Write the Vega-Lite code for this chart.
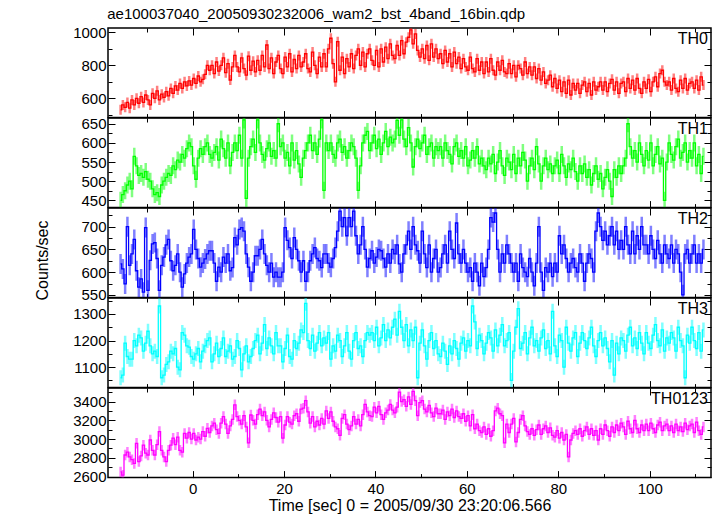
{
"$schema": "https://vega.github.io/schema/vega-lite/v6.json",
"background": "white",
"padding": {"left": 33, "top": 6, "right": 7, "bottom": 2},
"title": {"text": "ae100037040_20050930232006_wam2_bst_4band_16bin.qdp", "anchor": "start", "dx": 74, "offset": 3, "fontSize": 15, "fontWeight": "normal", "font": "Liberation Sans", "color": "#000"},
"bounds": "flush",
"spacing": 0,
"config": {
  "font": "Liberation Sans",
  "numberFormat": "d",
  "view": {"stroke": "#000", "strokeWidth": 1.5},
  "axis": {"domain": false, "grid": false, "ticks": true, "tickColor": "#000", "tickWidth": 1, "labelColor": "#000", "labelFontSize": 15, "labelFont": "Liberation Sans", "titleFont": "Liberation Sans", "titleFontSize": 16, "titleFontWeight": "normal", "titleColor": "#000", "minExtent": 0, "labelFlush": false}
},
"datasets": {"lc": [
{"t":-15.75,"a":530,"b":450,"c":618,"d":1060,"s":2650},
{"t":-15.25,"a":560,"b":465,"c":607,"d":1070,"s":2615},
{"t":-14.75,"a":545,"b":475,"c":574,"d":1190,"s":2830},
{"t":-14.25,"a":575,"b":490,"c":700,"d":1140,"s":2860},
{"t":-13.75,"a":540,"b":500,"c":615,"d":1130,"s":2810},
{"t":-13.25,"a":590,"b":480,"c":640,"d":1130,"s":2780},
{"t":-12.75,"a":560,"b":565,"c":672,"d":1200,"s":2740},
{"t":-12.25,"a":600,"b":540,"c":603,"d":1180,"s":2955},
{"t":-11.75,"a":570,"b":515,"c":567,"d":1220,"s":2760},
{"t":-11.25,"a":610,"b":520,"c":585,"d":1210,"s":2820},
{"t":-10.75,"a":575,"b":510,"c":556,"d":1160,"s":2935},
{"t":-10.25,"a":620,"b":525,"c":698,"d":1190,"s":2850},
{"t":-9.75,"a":590,"b":505,"c":560,"d":1235,"s":2830},
{"t":-9.25,"a":560,"b":500,"c":626,"d":1180,"s":2990},
{"t":-8.75,"a":630,"b":480,"c":662,"d":1150,"s":2880},
{"t":-8.25,"a":600,"b":465,"c":665,"d":1160,"s":2830},
{"t":-7.75,"a":645,"b":470,"c":630,"d":1140,"s":2940},
{"t":-7.25,"a":590,"b":460,"c":560,"d":1330,"s":3080},
{"t":-6.75,"a":625,"b":490,"c":615,"d":1060,"s":2880},
{"t":-6.25,"a":605,"b":500,"c":633,"d":1070,"s":2810},
{"t":-5.75,"a":640,"b":510,"c":660,"d":1110,"s":2760},
{"t":-5.25,"a":615,"b":520,"c":672,"d":1120,"s":2880},
{"t":-4.75,"a":660,"b":515,"c":625,"d":1160,"s":2935},
{"t":-4.25,"a":630,"b":540,"c":603,"d":1150,"s":3010},
{"t":-3.75,"a":675,"b":530,"c":615,"d":1170,"s":2940},
{"t":-3.25,"a":650,"b":555,"c":640,"d":1100,"s":3020},
{"t":-2.75,"a":690,"b":550,"c":600,"d":1090,"s":2880},
{"t":-2.25,"a":660,"b":570,"c":567,"d":1230,"s":2860},
{"t":-1.75,"a":700,"b":560,"c":596,"d":1220,"s":3060},
{"t":-1.25,"a":675,"b":585,"c":620,"d":1180,"s":3010},
{"t":-0.75,"a":705,"b":600,"c":633,"d":1175,"s":3070},
{"t":-0.25,"a":680,"b":590,"c":640,"d":1140,"s":3000},
{"t":0.25,"a":720,"b":540,"c":694,"d":1130,"s":3060},
{"t":0.75,"a":690,"b":505,"c":650,"d":1150,"s":2990},
{"t":1.25,"a":735,"b":560,"c":630,"d":1170,"s":3020},
{"t":1.75,"a":700,"b":585,"c":611,"d":1120,"s":3000},
{"t":2.25,"a":715,"b":570,"c":620,"d":1160,"s":3080},
{"t":2.75,"a":745,"b":590,"c":629,"d":1180,"s":3030},
{"t":3.25,"a":800,"b":600,"c":640,"d":1200,"s":3115},
{"t":3.75,"a":770,"b":570,"c":647,"d":1210,"s":3070},
{"t":4.25,"a":800,"b":560,"c":647,"d":1120,"s":3140},
{"t":4.75,"a":750,"b":575,"c":620,"d":1150,"s":3170},
{"t":5.25,"a":820,"b":590,"c":580,"d":1190,"s":3100},
{"t":5.75,"a":765,"b":555,"c":611,"d":1140,"s":3060},
{"t":6.25,"a":800,"b":610,"c":600,"d":1170,"s":3170},
{"t":6.75,"a":845,"b":585,"c":633,"d":1210,"s":3240},
{"t":7.25,"a":755,"b":560,"c":620,"d":1140,"s":3160},
{"t":7.75,"a":810,"b":600,"c":640,"d":1160,"s":3060},
{"t":8.25,"a":711,"b":540,"c":603,"d":1180,"s":3140},
{"t":8.75,"a":790,"b":575,"c":610,"d":1130,"s":3210},
{"t":9.25,"a":860,"b":600,"c":676,"d":1140,"s":3365},
{"t":9.75,"a":790,"b":580,"c":660,"d":1200,"s":3240},
{"t":10.25,"a":760,"b":620,"c":694,"d":1170,"s":3200},
{"t":10.75,"a":845,"b":560,"c":698,"d":1090,"s":3160},
{"t":11.25,"a":780,"b":660,"c":690,"d":1150,"s":3250},
{"t":11.75,"a":740,"b":455,"c":640,"d":1180,"s":3130},
{"t":12.25,"a":855,"b":560,"c":611,"d":1120,"s":2960},
{"t":12.75,"a":770,"b":590,"c":580,"d":1140,"s":3257},
{"t":13.25,"a":825,"b":610,"c":600,"d":1170,"s":3200},
{"t":13.75,"a":760,"b":575,"c":636,"d":1200,"s":3160},
{"t":14.25,"a":830,"b":660,"c":636,"d":1220,"s":3260},
{"t":14.75,"a":770,"b":600,"c":650,"d":1150,"s":3320},
{"t":15.25,"a":860,"b":570,"c":672,"d":1190,"s":3250},
{"t":15.75,"a":790,"b":555,"c":640,"d":1260,"s":3290},
{"t":16.25,"a":923,"b":585,"c":615,"d":1170,"s":3200},
{"t":16.75,"a":780,"b":600,"c":600,"d":1210,"s":3130},
{"t":17.25,"a":845,"b":565,"c":620,"d":1180,"s":3210},
{"t":17.75,"a":750,"b":580,"c":589,"d":1150,"s":3280},
{"t":18.25,"a":820,"b":560,"c":600,"d":1230,"s":3230},
{"t":18.75,"a":860,"b":650,"c":589,"d":1180,"s":3180},
{"t":19.25,"a":780,"b":590,"c":589,"d":1180,"s":3240},
{"t":19.75,"a":750,"b":600,"c":600,"d":1120,"s":3010},
{"t":20.25,"a":850,"b":560,"c":698,"d":1170,"s":3150},
{"t":20.75,"a":790,"b":575,"c":670,"d":1220,"s":3240},
{"t":21.25,"a":870,"b":540,"c":654,"d":1140,"s":3180},
{"t":21.75,"a":760,"b":600,"c":630,"d":1130,"s":3160},
{"t":22.25,"a":835,"b":555,"c":676,"d":1200,"s":3250},
{"t":22.75,"a":780,"b":580,"c":650,"d":1170,"s":3270},
{"t":23.25,"a":860,"b":545,"c":625,"d":1190,"s":3190},
{"t":23.75,"a":790,"b":510,"c":600,"d":1240,"s":3320},
{"t":24.25,"a":820,"b":560,"c":625,"d":1230,"s":3330},
{"t":24.75,"a":870,"b":580,"c":580,"d":1340,"s":3410},
{"t":25.25,"a":780,"b":600,"c":600,"d":1200,"s":3290},
{"t":25.75,"a":760,"b":620,"c":625,"d":1170,"s":3170},
{"t":26.25,"a":880,"b":580,"c":640,"d":1220,"s":3240},
{"t":26.75,"a":800,"b":600,"c":654,"d":1160,"s":3130},
{"t":27.25,"a":750,"b":570,"c":630,"d":1190,"s":3190},
{"t":27.75,"a":850,"b":610,"c":625,"d":1230,"s":3150},
{"t":28.25,"a":790,"b":660,"c":610,"d":1180,"s":3220},
{"t":28.75,"a":870,"b":476,"c":640,"d":1210,"s":3160},
{"t":29.25,"a":790,"b":600,"c":640,"d":1190,"s":3300},
{"t":29.75,"a":900,"b":580,"c":620,"d":1230,"s":3220},
{"t":30.25,"a":964,"b":600,"c":611,"d":1130,"s":3290},
{"t":30.75,"a":810,"b":570,"c":630,"d":1180,"s":3190},
{"t":31.25,"a":700,"b":560,"c":654,"d":1160,"s":3130},
{"t":31.75,"a":943,"b":600,"c":690,"d":1220,"s":3110},
{"t":32.25,"a":770,"b":610,"c":734,"d":1200,"s":3040},
{"t":32.75,"a":850,"b":575,"c":700,"d":1140,"s":3220},
{"t":33.25,"a":750,"b":590,"c":720,"d":1180,"s":3260},
{"t":33.75,"a":840,"b":560,"c":680,"d":1230,"s":3160},
{"t":34.25,"a":790,"b":580,"c":720,"d":1160,"s":3100},
{"t":34.75,"a":870,"b":600,"c":700,"d":1130,"s":3140},
{"t":35.25,"a":780,"b":590,"c":734,"d":1200,"s":3240},
{"t":35.75,"a":860,"b":560,"c":680,"d":1230,"s":3160},
{"t":36.25,"a":900,"b":476,"c":640,"d":1170,"s":3210},
{"t":36.75,"a":800,"b":540,"c":660,"d":1180,"s":3140},
{"t":37.25,"a":880,"b":600,"c":700,"d":1140,"s":3260},
{"t":37.75,"a":790,"b":620,"c":650,"d":1200,"s":3370},
{"t":38.25,"a":870,"b":630,"c":611,"d":1230,"s":3290},
{"t":38.75,"a":900,"b":580,"c":630,"d":1220,"s":3250},
{"t":39.25,"a":830,"b":600,"c":647,"d":1230,"s":3240},
{"t":39.75,"a":800,"b":620,"c":620,"d":1200,"s":3340},
{"t":40.25,"a":890,"b":585,"c":633,"d":1250,"s":3280},
{"t":40.75,"a":790,"b":610,"c":650,"d":1180,"s":3350},
{"t":41.25,"a":900,"b":570,"c":647,"d":1210,"s":3260},
{"t":41.75,"a":820,"b":600,"c":630,"d":1260,"s":3210},
{"t":42.25,"a":910,"b":630,"c":611,"d":1200,"s":3280},
{"t":42.75,"a":840,"b":590,"c":640,"d":1240,"s":3310},
{"t":43.25,"a":930,"b":615,"c":620,"d":1210,"s":3370},
{"t":43.75,"a":860,"b":600,"c":650,"d":1250,"s":3310},
{"t":44.25,"a":840,"b":610,"c":640,"d":1280,"s":3280},
{"t":44.75,"a":920,"b":659,"c":660,"d":1220,"s":3340},
{"t":45.25,"a":860,"b":620,"c":618,"d":1310,"s":3500},
{"t":45.75,"a":950,"b":660,"c":600,"d":1250,"s":3400},
{"t":46.25,"a":870,"b":610,"c":640,"d":1200,"s":3420},
{"t":46.75,"a":940,"b":590,"c":660,"d":1260,"s":3350},
{"t":47.25,"a":970,"b":640,"c":690,"d":1180,"s":3450},
{"t":47.75,"a":1015,"b":600,"c":650,"d":1240,"s":3370},
{"t":48.25,"a":930,"b":537,"c":700,"d":1200,"s":3510},
{"t":48.75,"a":990,"b":590,"c":660,"d":1250,"s":3410},
{"t":49.25,"a":890,"b":610,"c":647,"d":1060,"s":3250},
{"t":49.75,"a":850,"b":585,"c":620,"d":1190,"s":3390},
{"t":50.25,"a":900,"b":600,"c":690,"d":1240,"s":3410},
{"t":50.75,"a":840,"b":620,"c":640,"d":1180,"s":3320},
{"t":51.25,"a":920,"b":570,"c":610,"d":1130,"s":3290},
{"t":51.75,"a":830,"b":590,"c":660,"d":1200,"s":3360},
{"t":52.25,"a":930,"b":600,"c":600,"d":1230,"s":3280},
{"t":52.75,"a":850,"b":560,"c":630,"d":1170,"s":3240},
{"t":53.25,"a":900,"b":590,"c":650,"d":1200,"s":3330},
{"t":53.75,"a":840,"b":580,"c":600,"d":1150,"s":3270},
{"t":54.25,"a":870,"b":590,"c":610,"d":1140,"s":3270},
{"t":54.75,"a":810,"b":560,"c":640,"d":1190,"s":3310},
{"t":55.25,"a":890,"b":600,"c":660,"d":1160,"s":3210},
{"t":55.75,"a":820,"b":580,"c":620,"d":1110,"s":3290},
{"t":56.25,"a":870,"b":570,"c":690,"d":1180,"s":3250},
{"t":56.75,"a":790,"b":545,"c":650,"d":1150,"s":3320},
{"t":57.25,"a":880,"b":590,"c":630,"d":1200,"s":3230},
{"t":57.75,"a":810,"b":600,"c":708,"d":1170,"s":3300},
{"t":58.25,"a":850,"b":565,"c":640,"d":1130,"s":3240},
{"t":58.75,"a":780,"b":580,"c":620,"d":1190,"s":3220},
{"t":59.25,"a":840,"b":560,"c":650,"d":1210,"s":3270},
{"t":59.75,"a":790,"b":590,"c":620,"d":1160,"s":3190},
{"t":60.25,"a":770,"b":540,"c":600,"d":1200,"s":3250},
{"t":60.75,"a":850,"b":555,"c":610,"d":1180,"s":3140},
{"t":61.25,"a":780,"b":580,"c":580,"d":1330,"s":3260},
{"t":61.75,"a":760,"b":560,"c":620,"d":1270,"s":3110},
{"t":62.25,"a":840,"b":590,"c":600,"d":1170,"s":3160},
{"t":62.75,"a":770,"b":545,"c":570,"d":1220,"s":3090},
{"t":63.25,"a":820,"b":560,"c":620,"d":1200,"s":3070},
{"t":63.75,"a":750,"b":540,"c":590,"d":1150,"s":3130},
{"t":64.25,"a":820,"b":530,"c":610,"d":1190,"s":3050},
{"t":64.75,"a":760,"b":560,"c":650,"d":1230,"s":3110},
{"t":65.25,"a":840,"b":545,"c":720,"d":1210,"s":3030},
{"t":65.75,"a":770,"b":570,"c":710,"d":1160,"s":3090},
{"t":66.25,"a":740,"b":520,"c":730,"d":1240,"s":3300},
{"t":66.75,"a":820,"b":550,"c":650,"d":1180,"s":3330},
{"t":67.25,"a":770,"b":580,"c":600,"d":1220,"s":3270},
{"t":67.75,"a":830,"b":540,"c":640,"d":1260,"s":3250},
{"t":68.25,"a":760,"b":515,"c":620,"d":1180,"s":2960},
{"t":68.75,"a":750,"b":560,"c":660,"d":1200,"s":3160},
{"t":69.25,"a":810,"b":550,"c":640,"d":1230,"s":3070},
{"t":69.75,"a":750,"b":530,"c":620,"d":1050,"s":3160},
{"t":70.25,"a":800,"b":570,"c":600,"d":1160,"s":3220},
{"t":70.75,"a":730,"b":520,"c":620,"d":1250,"s":2970},
{"t":71.25,"a":800,"b":560,"c":580,"d":1320,"s":3070},
{"t":71.75,"a":780,"b":540,"c":640,"d":1170,"s":3210},
{"t":72.25,"a":740,"b":575,"c":610,"d":1190,"s":3250},
{"t":72.75,"a":820,"b":555,"c":600,"d":1230,"s":3140},
{"t":73.25,"a":750,"b":500,"c":590,"d":1150,"s":3080},
{"t":73.75,"a":790,"b":540,"c":630,"d":1210,"s":3050},
{"t":74.25,"a":740,"b":560,"c":600,"d":1250,"s":3110},
{"t":74.75,"a":790,"b":530,"c":570,"d":1180,"s":3040},
{"t":75.25,"a":720,"b":590,"c":620,"d":1200,"s":3100},
{"t":75.75,"a":780,"b":545,"c":700,"d":1160,"s":3150},
{"t":76.25,"a":710,"b":500,"c":600,"d":1210,"s":3050},
{"t":76.75,"a":760,"b":540,"c":560,"d":1240,"s":3110},
{"t":77.25,"a":690,"b":560,"c":610,"d":1170,"s":3140},
{"t":77.75,"a":710,"b":530,"c":600,"d":1200,"s":3070},
{"t":78.25,"a":740,"b":545,"c":620,"d":1150,"s":3120},
{"t":78.75,"a":670,"b":520,"c":590,"d":1310,"s":3040},
{"t":79.25,"a":720,"b":540,"c":620,"d":1180,"s":3020},
{"t":79.75,"a":660,"b":555,"c":600,"d":1140,"s":3090},
{"t":80.25,"a":710,"b":520,"c":680,"d":1220,"s":3010},
{"t":80.75,"a":640,"b":570,"c":640,"d":1200,"s":3070},
{"t":81.25,"a":700,"b":540,"c":660,"d":1100,"s":2990},
{"t":81.75,"a":630,"b":510,"c":630,"d":1250,"s":3050},
{"t":82.25,"a":710,"b":545,"c":600,"d":1190,"s":2810},
{"t":82.75,"a":620,"b":530,"c":620,"d":1160,"s":2990},
{"t":83.25,"a":690,"b":560,"c":630,"d":1210,"s":3060},
{"t":83.75,"a":650,"b":525,"c":610,"d":1230,"s":3090},
{"t":84.25,"a":690,"b":500,"c":600,"d":1140,"s":3050},
{"t":84.75,"a":630,"b":540,"c":640,"d":1190,"s":3110},
{"t":85.25,"a":680,"b":520,"c":620,"d":1230,"s":3030},
{"t":85.75,"a":700,"b":545,"c":580,"d":1200,"s":3090},
{"t":86.25,"a":640,"b":510,"c":620,"d":1170,"s":3130},
{"t":86.75,"a":690,"b":530,"c":640,"d":1210,"s":3050},
{"t":87.25,"a":620,"b":490,"c":630,"d":1250,"s":3110},
{"t":87.75,"a":700,"b":520,"c":600,"d":1180,"s":3040},
{"t":88.25,"a":650,"b":540,"c":690,"d":1140,"s":3090},
{"t":88.75,"a":670,"b":505,"c":730,"d":1200,"s":2990},
{"t":89.25,"a":700,"b":520,"c":700,"d":1230,"s":3110},
{"t":89.75,"a":650,"b":480,"c":670,"d":1180,"s":3050},
{"t":90.25,"a":700,"b":510,"c":690,"d":1210,"s":3150},
{"t":90.75,"a":640,"b":530,"c":660,"d":1170,"s":3090},
{"t":91.25,"a":690,"b":500,"c":680,"d":1120,"s":3030},
{"t":91.75,"a":715,"b":460,"c":700,"d":1200,"s":3130},
{"t":92.25,"a":650,"b":530,"c":660,"d":1070,"s":3070},
{"t":92.75,"a":700,"b":510,"c":690,"d":1190,"s":3150},
{"t":93.25,"a":630,"b":540,"c":650,"d":1150,"s":3090},
{"t":93.75,"a":690,"b":520,"c":670,"d":1210,"s":3170},
{"t":94.25,"a":700,"b":540,"c":650,"d":1200,"s":3130},
{"t":94.75,"a":640,"b":560,"c":700,"d":1160,"s":3050},
{"t":95.25,"a":720,"b":650,"c":660,"d":1220,"s":3190},
{"t":95.75,"a":660,"b":590,"c":640,"d":1250,"s":3110},
{"t":96.25,"a":710,"b":560,"c":690,"d":1180,"s":3070},
{"t":96.75,"a":650,"b":580,"c":640,"d":1210,"s":3200},
{"t":97.25,"a":720,"b":550,"c":680,"d":1170,"s":3110},
{"t":97.75,"a":660,"b":600,"c":650,"d":1230,"s":3070},
{"t":98.25,"a":630,"b":570,"c":700,"d":1190,"s":3150},
{"t":98.75,"a":700,"b":540,"c":660,"d":1150,"s":3090},
{"t":99.25,"a":660,"b":580,"c":660,"d":1230,"s":3160},
{"t":99.75,"a":715,"b":555,"c":640,"d":1190,"s":3090},
{"t":100.25,"a":640,"b":600,"c":680,"d":1170,"s":3170},
{"t":100.75,"a":700,"b":540,"c":650,"d":1220,"s":3110},
{"t":101.25,"a":730,"b":570,"c":630,"d":1260,"s":3070},
{"t":101.75,"a":670,"b":590,"c":670,"d":1200,"s":3150},
{"t":102.25,"a":750,"b":545,"c":640,"d":1180,"s":3180},
{"t":102.75,"a":770,"b":560,"c":620,"d":1240,"s":3090},
{"t":103.25,"a":700,"b":450,"c":660,"d":1160,"s":3140},
{"t":103.75,"a":680,"b":550,"c":640,"d":1210,"s":3160},
{"t":104.25,"a":700,"b":600,"c":630,"d":1190,"s":3090},
{"t":104.75,"a":650,"b":570,"c":660,"d":1230,"s":3140},
{"t":105.25,"a":720,"b":555,"c":620,"d":1210,"s":3070},
{"t":105.75,"a":660,"b":590,"c":650,"d":1160,"s":3160},
{"t":106.25,"a":640,"b":610,"c":640,"d":1250,"s":3090},
{"t":106.75,"a":710,"b":560,"c":600,"d":1200,"s":3130},
{"t":107.25,"a":660,"b":575,"c":550,"d":1180,"s":3080},
{"t":107.75,"a":720,"b":600,"c":640,"d":1060,"s":3170},
{"t":108.25,"a":650,"b":550,"c":650,"d":1220,"s":3100},
{"t":108.75,"a":690,"b":580,"c":620,"d":1190,"s":3140},
{"t":109.25,"a":700,"b":560,"c":640,"d":1250,"s":3160},
{"t":109.75,"a":660,"b":600,"c":660,"d":1200,"s":3070},
{"t":110.25,"a":710,"b":540,"c":620,"d":1170,"s":3180},
{"t":110.75,"a":650,"b":570,"c":640,"d":1230,"s":3090},
{"t":111.25,"a":730,"b":520,"c":620,"d":1160,"s":3050},
{"t":111.75,"a":680,"b":565,"c":650,"d":1240,"s":3130}
]},
"data": {"name": "lc"},
"vconcat": [
{
  "width": 603, "height": 89.6,
  "layer": [
    {"mark": {"type": "tick", "orient": "vertical", "size": 10, "thickness": 2.5, "opacity": 0.5, "color": "#ff0000", "clip": true},
     "encoding": {
       "x": {"field": "t", "type": "quantitative", "scale": {"domain": [-18.5, 113.4], "nice": false, "zero": false}, "axis": {"orient": "bottom", "values": [-10,0,10,20,30,40,50,60,70,80,90,100,110], "labels": false, "title": null, "tickSize": {"condition": {"test": "datum.value % 20 === 0", "value": -7}, "value": -4}}},
       "y": {"field": "a", "type": "quantitative", "scale": {"domain": [483, 1026], "nice": false, "zero": false}, "axis": {"orient": "left", "values": [500,600,700,800,900,1000], "format": "d", "labelExpr": "datum.value % 200 === 0 ? datum.label : ''", "labelPadding": 9, "title": null, "tickSize": {"condition": {"test": "datum.value % 200 === 0", "value": -7}, "value": -4}}}
     }},
    {"mark": {"type": "line", "interpolate": "step", "color": "#ff0000", "strokeWidth": 1.3, "clip": true},
     "encoding": {
       "x": {"field": "t", "type": "quantitative", "scale": {"domain": [-18.5, 113.4], "nice": false, "zero": false}, "axis": {"orient": "top", "values": [-10,0,10,20,30,40,50,60,70,80,90,100,110], "labels": false, "title": null, "tickSize": {"condition": {"test": "datum.value % 20 === 0", "value": -7}, "value": -4}}},
       "y": {"field": "a", "type": "quantitative", "scale": {"domain": [483, 1026], "nice": false, "zero": false}, "axis": {"orient": "right", "values": [500,600,700,800,900,1000], "labels": false, "title": null, "tickSize": {"condition": {"test": "datum.value % 200 === 0", "value": -7}, "value": -4}}}
     }},
    {"data": {"values": [{"label": "TH0"}]},
     "mark": {"type": "text", "align": "right", "baseline": "alphabetic", "dx": -3, "dy": 15.6, "fontSize": 16, "font": "Liberation Sans", "color": "#000"},
     "encoding": {
       "x": {"datum": 113.4, "type": "quantitative", "axis": null},
       "y": {"datum": 1026, "type": "quantitative", "axis": null},
       "text": {"field": "label"}
     }}
  ],
  "resolve": {"axis": {"x": "independent", "y": "independent"}}
},
{
  "width": 603, "height": 89.6,
  "layer": [
    {"mark": {"type": "tick", "orient": "vertical", "size": 17, "thickness": 2.5, "opacity": 0.5, "color": "#00ff00", "clip": true},
     "encoding": {
       "x": {"field": "t", "type": "quantitative", "scale": {"domain": [-18.5, 113.4], "nice": false, "zero": false}, "axis": {"orient": "bottom", "values": [-10,0,10,20,30,40,50,60,70,80,90,100,110], "labels": false, "title": null, "tickSize": {"condition": {"test": "datum.value % 20 === 0", "value": -7}, "value": -4}}},
       "y": {"field": "b", "type": "quantitative", "scale": {"domain": [431, 665], "nice": false, "zero": false}, "axis": {"orient": "left", "values": [450,475,500,525,550,575,600,625,650], "format": "d", "labelExpr": "datum.value % 50 === 0 ? datum.label : ''", "labelPadding": 9, "title": null, "tickSize": {"condition": {"test": "datum.value % 50 === 0", "value": -7}, "value": -4}}}
     }},
    {"mark": {"type": "line", "interpolate": "step", "color": "#00ff00", "strokeWidth": 1.3, "clip": true},
     "encoding": {
       "x": {"field": "t", "type": "quantitative", "scale": {"domain": [-18.5, 113.4], "nice": false, "zero": false}, "axis": {"orient": "top", "values": [-10,0,10,20,30,40,50,60,70,80,90,100,110], "labels": false, "title": null, "tickSize": {"condition": {"test": "datum.value % 20 === 0", "value": -7}, "value": -4}}},
       "y": {"field": "b", "type": "quantitative", "scale": {"domain": [431, 665], "nice": false, "zero": false}, "axis": {"orient": "right", "values": [450,475,500,525,550,575,600,625,650], "labels": false, "title": null, "tickSize": {"condition": {"test": "datum.value % 50 === 0", "value": -7}, "value": -4}}}
     }},
    {"data": {"values": [{"label": "TH1"}]},
     "mark": {"type": "text", "align": "right", "baseline": "alphabetic", "dx": -3, "dy": 15.6, "fontSize": 16, "font": "Liberation Sans", "color": "#000"},
     "encoding": {
       "x": {"datum": 113.4, "type": "quantitative", "axis": null},
       "y": {"datum": 665, "type": "quantitative", "axis": null},
       "text": {"field": "label"}
     }}
  ],
  "resolve": {"axis": {"x": "independent", "y": "independent"}}
},
{
  "width": 603, "height": 89.6,
  "layer": [
    {"mark": {"type": "tick", "orient": "vertical", "size": 20, "thickness": 2.5, "opacity": 0.5, "color": "#0000ff", "clip": true},
     "encoding": {
       "x": {"field": "t", "type": "quantitative", "scale": {"domain": [-18.5, 113.4], "nice": false, "zero": false}, "axis": {"orient": "bottom", "values": [-10,0,10,20,30,40,50,60,70,80,90,100,110], "labels": false, "title": null, "tickSize": {"condition": {"test": "datum.value % 20 === 0", "value": -7}, "value": -4}}},
       "y": {"field": "c", "type": "quantitative", "scale": {"domain": [544, 741], "nice": false, "zero": false}, "axis": {"orient": "left", "values": [550,575,600,625,650,675,700,725], "format": "d", "labelExpr": "datum.value % 50 === 0 ? datum.label : ''", "labelPadding": 9, "title": "Counts/sec", "titleX": -58, "titleY": 52, "tickSize": {"condition": {"test": "datum.value % 50 === 0", "value": -7}, "value": -4}}}
     }},
    {"mark": {"type": "line", "interpolate": "step", "color": "#0000ff", "strokeWidth": 1.3, "clip": true},
     "encoding": {
       "x": {"field": "t", "type": "quantitative", "scale": {"domain": [-18.5, 113.4], "nice": false, "zero": false}, "axis": {"orient": "top", "values": [-10,0,10,20,30,40,50,60,70,80,90,100,110], "labels": false, "title": null, "tickSize": {"condition": {"test": "datum.value % 20 === 0", "value": -7}, "value": -4}}},
       "y": {"field": "c", "type": "quantitative", "scale": {"domain": [544, 741], "nice": false, "zero": false}, "axis": {"orient": "right", "values": [550,575,600,625,650,675,700,725], "labels": false, "title": null, "tickSize": {"condition": {"test": "datum.value % 50 === 0", "value": -7}, "value": -4}}}
     }},
    {"data": {"values": [{"label": "TH2"}]},
     "mark": {"type": "text", "align": "right", "baseline": "alphabetic", "dx": -3, "dy": 15.6, "fontSize": 16, "font": "Liberation Sans", "color": "#000"},
     "encoding": {
       "x": {"datum": 113.4, "type": "quantitative", "axis": null},
       "y": {"datum": 741, "type": "quantitative", "axis": null},
       "text": {"field": "label"}
     }}
  ],
  "resolve": {"axis": {"x": "independent", "y": "independent"}}
},
{
  "width": 603, "height": 89.6,
  "layer": [
    {"mark": {"type": "tick", "orient": "vertical", "size": 15, "thickness": 2.5, "opacity": 0.5, "color": "#00ffff", "clip": true},
     "encoding": {
       "x": {"field": "t", "type": "quantitative", "scale": {"domain": [-18.5, 113.4], "nice": false, "zero": false}, "axis": {"orient": "bottom", "values": [-10,0,10,20,30,40,50,60,70,80,90,100,110], "labels": false, "title": null, "tickSize": {"condition": {"test": "datum.value % 20 === 0", "value": -7}, "value": -4}}},
       "y": {"field": "d", "type": "quantitative", "scale": {"domain": [1023, 1360], "nice": false, "zero": false}, "axis": {"orient": "left", "values": [1050,1100,1150,1200,1250,1300,1350], "format": "d", "labelExpr": "datum.value % 100 === 0 ? datum.label : ''", "labelPadding": 9, "title": null, "tickSize": {"condition": {"test": "datum.value % 100 === 0", "value": -7}, "value": -4}}}
     }},
    {"mark": {"type": "line", "interpolate": "step", "color": "#00ffff", "strokeWidth": 1.3, "clip": true},
     "encoding": {
       "x": {"field": "t", "type": "quantitative", "scale": {"domain": [-18.5, 113.4], "nice": false, "zero": false}, "axis": {"orient": "top", "values": [-10,0,10,20,30,40,50,60,70,80,90,100,110], "labels": false, "title": null, "tickSize": {"condition": {"test": "datum.value % 20 === 0", "value": -7}, "value": -4}}},
       "y": {"field": "d", "type": "quantitative", "scale": {"domain": [1023, 1360], "nice": false, "zero": false}, "axis": {"orient": "right", "values": [1050,1100,1150,1200,1250,1300,1350], "labels": false, "title": null, "tickSize": {"condition": {"test": "datum.value % 100 === 0", "value": -7}, "value": -4}}}
     }},
    {"data": {"values": [{"label": "TH3"}]},
     "mark": {"type": "text", "align": "right", "baseline": "alphabetic", "dx": -3, "dy": 15.6, "fontSize": 16, "font": "Liberation Sans", "color": "#000"},
     "encoding": {
       "x": {"datum": 113.4, "type": "quantitative", "axis": null},
       "y": {"datum": 1360, "type": "quantitative", "axis": null},
       "text": {"field": "label"}
     }}
  ],
  "resolve": {"axis": {"x": "independent", "y": "independent"}}
},
{
  "width": 603, "height": 89.6,
  "layer": [
    {"mark": {"type": "tick", "orient": "vertical", "size": 10.5, "thickness": 2.5, "opacity": 0.5, "color": "#ff00ff", "clip": true},
     "encoding": {
       "x": {"field": "t", "type": "quantitative", "scale": {"domain": [-18.5, 113.4], "nice": false, "zero": false}, "axis": {"orient": "bottom", "values": [-10,0,10,20,30,40,50,60,70,80,90,100,110], "format": "d", "labelExpr": "datum.value % 20 === 0 ? datum.label : ''", "labelPadding": 11, "title": "Time [sec] 0 = 2005/09/30 23:20:06.566", "titlePadding": 1, "tickSize": {"condition": {"test": "datum.value % 20 === 0", "value": -7}, "value": -4}}},
       "y": {"field": "s", "type": "quantitative", "scale": {"domain": [2589, 3545], "nice": false, "zero": false}, "axis": {"orient": "left", "values": [2600,2700,2800,2900,3000,3100,3200,3300,3400,3500], "format": "d", "labelExpr": "datum.value % 200 === 0 ? datum.label : ''", "labelPadding": 9, "title": null, "tickSize": {"condition": {"test": "datum.value % 200 === 0", "value": -7}, "value": -4}}}
     }},
    {"mark": {"type": "line", "interpolate": "step", "color": "#ff00ff", "strokeWidth": 1.3, "clip": true},
     "encoding": {
       "x": {"field": "t", "type": "quantitative", "scale": {"domain": [-18.5, 113.4], "nice": false, "zero": false}, "axis": {"orient": "top", "values": [-10,0,10,20,30,40,50,60,70,80,90,100,110], "labels": false, "title": null, "tickSize": {"condition": {"test": "datum.value % 20 === 0", "value": -7}, "value": -4}}},
       "y": {"field": "s", "type": "quantitative", "scale": {"domain": [2589, 3545], "nice": false, "zero": false}, "axis": {"orient": "right", "values": [2600,2700,2800,2900,3000,3100,3200,3300,3400,3500], "labels": false, "title": null, "tickSize": {"condition": {"test": "datum.value % 200 === 0", "value": -7}, "value": -4}}}
     }},
    {"data": {"values": [{"label": "TH0123"}]},
     "mark": {"type": "text", "align": "right", "baseline": "alphabetic", "dx": -3, "dy": 15.6, "fontSize": 16, "font": "Liberation Sans", "color": "#000"},
     "encoding": {
       "x": {"datum": 113.4, "type": "quantitative", "axis": null},
       "y": {"datum": 3545, "type": "quantitative", "axis": null},
       "text": {"field": "label"}
     }}
  ],
  "resolve": {"axis": {"x": "independent", "y": "independent"}}
}
]
}
